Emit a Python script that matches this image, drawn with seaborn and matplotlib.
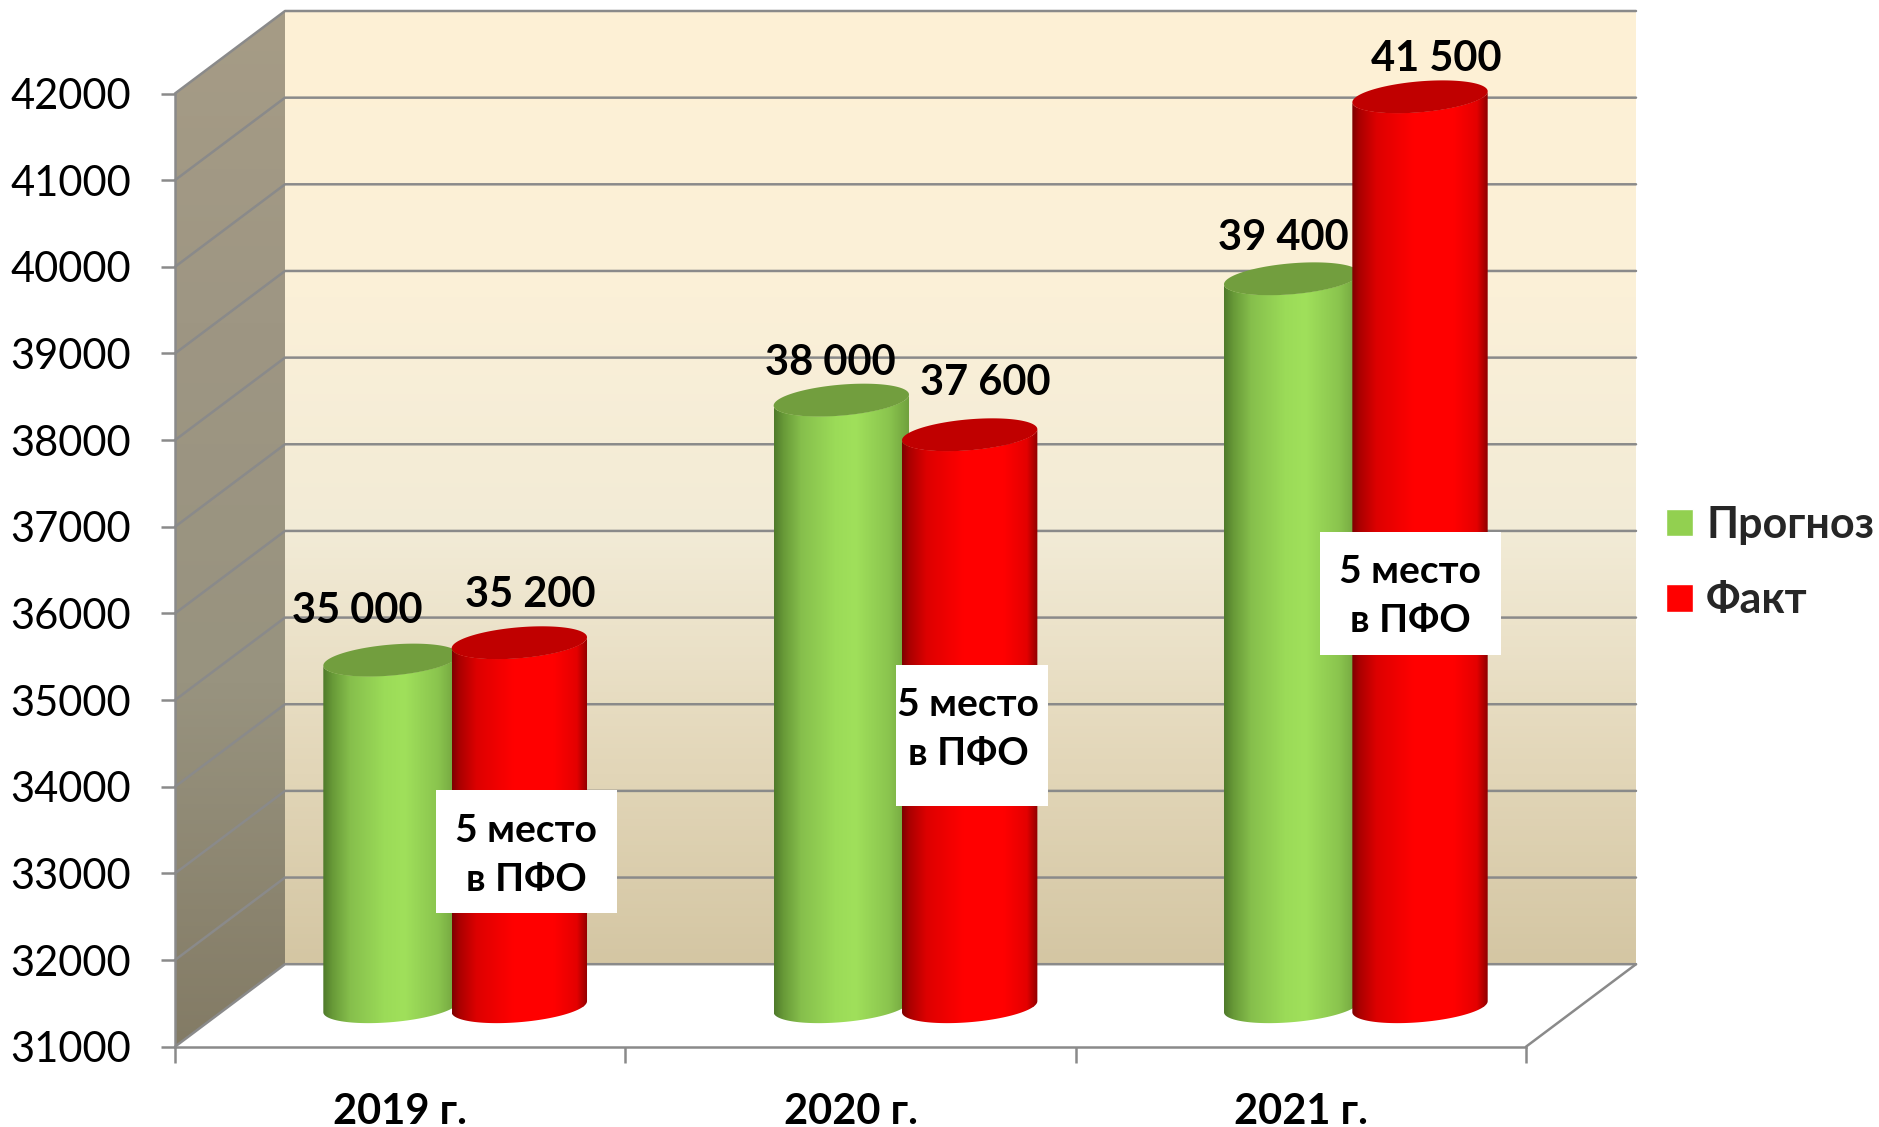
import numpy as np
import pandas as pd
import seaborn as sns
import matplotlib.pyplot as plt
from matplotlib.colors import LinearSegmentedColormap as LSC
from matplotlib.patches import Rectangle
from matplotlib.path import Path

sns.set_theme(style='white')
plt.rcParams['font.family'] = ['Lato', 'Noto Sans', 'DejaVu Sans']

years = ['2019 г.', '2020 г.', '2021 г.']
series_names = ['Прогноз', 'Факт']
forecast = [35000, 38000, 39400]
fact = [35200, 37600, 41500]
y_ticks = list(range(31000, 43000, 1000))
note_text = '5 место\nв ПФО'

W, H = 1879, 1127
LINE = '#8a8a8a'
FS = 30

# px -> data
PX_X = 1351 / 3
PX_Y = 953.2 / 11000
DX = 110 / PX_X
DY = 82.5 / PX_Y
CAP_B = 15.5 / PX_Y
CAP_S = 5.5 / PX_Y

green_cmap = LSC.from_list('g', [(0, '#4f7a2b'), (0.07, '#689a38'), (0.2, '#86bf4c'), (0.45, '#9bdb58'),
                                 (0.6, '#a0e05b'), (0.85, '#8ac44e'), (1, '#6f9f3d')])
red_cmap = LSC.from_list('r', [(0, '#7d0000'), (0.05, '#a80000'), (0.18, '#dd0000'), (0.45, '#ff0000'),
                               (0.75, '#ff0000'), (0.92, '#e40000'), (1, '#8f0000')])
back_cmap = LSC.from_list('b', [(0, '#d4c6a3'), (0.2, '#e2d6b8'), (0.45, '#f2ebd6'), (0.7, '#fbf0d8'), (1, '#fef0d5')])
side_cmap = LSC.from_list('s', [(0, '#837b65'), (0.35, '#98937f'), (0.7, '#9e9683'), (1, '#a69c86')])

fig = plt.figure(figsize=(W / 100, H / 100), dpi=100)
ax = fig.add_axes([175 / W, (H - 1046.7) / H, 1351 / W, 953.2 / H], zorder=1)
bar_ax = fig.add_axes([230 / W, (H - 1006.7) / H, 1351 / W, 953.2 / H], zorder=2)

# walls
ax.set_xlim(-0.5, 2.5)
ax.set_ylim(31000, 42000)
ax.set_autoscale_on(False)
ax.patch.set_visible(False)
col = np.linspace(0, 1, 256).reshape(-1, 1)
ax.imshow(col, origin='lower', cmap=back_cmap, aspect='auto', zorder=0, clip_on=False,
          extent=(-0.5 + DX, 2.5 + DX, 31000 + DY, 42000 + DY))
side = ax.imshow(col, origin='lower', cmap=side_cmap, aspect='auto', zorder=0,
                 extent=(-0.5, -0.5 + DX, 31000, 42000 + DY))
side.set_clip_box(fig.bbox)
side.set_clip_path(Path([(-0.5, 31000), (-0.5 + DX, 31000 + DY), (-0.5 + DX, 42000 + DY), (-0.5, 42000)]),
                   ax.transData)

for v in y_ticks:
    ax.plot([-0.5, -0.5 + DX, 2.5 + DX], [v, v + DY, v + DY], color=LINE, lw=1.8, zorder=1, clip_on=False)
ax.plot([2.5, 2.5 + DX], [31000, 31000 + DY], color=LINE, lw=1.8, zorder=1, clip_on=False)

for s in ['top', 'right']:
    ax.spines[s].set_visible(False)
for s in ['left', 'bottom']:
    ax.spines[s].set_color(LINE)
    ax.spines[s].set_linewidth(1.8)
ax.set_yticks(y_ticks)
ax.set_yticklabels([str(v) for v in y_ticks], fontsize=FS, color='black')
ax.set_xticks([-0.5, 0.5, 1.5, 2.5], labels=[])
ax.set_xticks([0, 1, 2], labels=years, minor=True, fontsize=FS, fontweight='bold', color='black')
ax.tick_params(axis='y', left=True, length=10, width=1.8, color=LINE, pad=21.5)
ax.tick_params(axis='x', which='major', bottom=True, length=11.5, width=1.8, color=LINE)
ax.tick_params(axis='x', which='minor', bottom=False, length=0, pad=33)

# bars
df = pd.DataFrame({
    'year': years * 2,
    'value': forecast + fact,
    'series': [series_names[0]] * 3 + [series_names[1]] * 3,
})
sns.barplot(data=df, x='year', y='value', hue='series', hue_order=series_names, dodge=True, width=0.57,
            palette=['#92d050', '#ff0000'], saturation=1, ax=bar_ax)
bar_ax.set_xlim(-0.5, 2.5)
bar_ax.set_ylim(31000, 42000)
bar_ax.set_autoscale_on(False)
bar_ax.set_axis_off()


def cylinder(bar, cmap, cap_color, z):
    cx = bar.get_x() + bar.get_width() / 2
    rx = bar.get_width() / 2 * 135 / 128
    top = bar.get_height()
    t = np.linspace(np.pi, 2 * np.pi, 60)
    low_x = cx + rx * np.cos(t)
    low_off = CAP_S * np.cos(t) + CAP_B * np.sin(t)
    # side wall with the rounded foot, closed under the cap
    verts = list(zip(low_x, 31000 + low_off)) + list(zip(low_x[::-1], top + low_off[::-1]))
    outline = Path(verts + [verts[0]])
    bar.set_clip_path(outline, bar_ax.transData)
    im = bar_ax.imshow(np.linspace(0, 1, 256).reshape(1, -1), cmap=cmap, aspect='auto', zorder=z,
                       extent=(cx - rx, cx + rx, 31000 - 3 * CAP_B, top + 3 * CAP_B))
    im.set_clip_box(fig.bbox)
    im.set_clip_path(outline, bar_ax.transData)
    a = np.linspace(0, 2 * np.pi, 120)
    bar_ax.fill(cx + rx * np.cos(a), top + CAP_S * np.cos(a) + CAP_B * np.sin(a), color=cap_color, lw=0,
                zorder=z + 0.1, clip_on=False)


label_offsets = [[(-34, 49), (-11, 37.5), (-8, 40.5)], [(11, 47.5), (16, 52), (16, 37.5)]]

for s, (cont, cmap, cap) in enumerate(zip(bar_ax.containers[:2], [green_cmap, red_cmap], ['#729e3e', '#c00000'])):
    for i, bar in enumerate(cont):
        cylinder(bar, cmap, cap, 3 + i * 2 + s)
        cx = bar.get_x() + bar.get_width() / 2
        off = label_offsets[s][i]
        bar_ax.annotate(f'{int(bar.get_height()):,}'.replace(',', ' '), (cx, bar.get_height()),
                        xytext=(off[0] * 0.72, off[1] * 0.72), textcoords='offset points', ha='center',
                        va='center', fontsize=FS, fontweight='bold', color='black', zorder=20,
                        annotation_clip=False)

sns.move_legend(bar_ax, 'lower left', bbox_to_anchor=(1666 / W, (H - 620) / H), bbox_transform=fig.transFigure,
                frameon=False, title=None, handlelength=0.62, handleheight=0.62,
                handletextpad=0.31, labelspacing=0.82, borderpad=0, borderaxespad=0,
                prop={'weight': 'bold', 'size': 31})

# white notes over the bars
note_boxes = [(436, 790, 617, 913), (896, 665, 1048, 806), (1320, 532, 1501, 655)]
note_text_xy = [(526, 855), (968, 729), (1410, 596)]
for (x0, y0, x1, y1), (tx, ty) in zip(note_boxes, note_text_xy):
    fig.add_artist(Rectangle((x0 / W, 1 - y1 / H), (x1 - x0) / W, (y1 - y0) / H, transform=fig.transFigure,
                             facecolor='white', edgecolor='none', zorder=10))
    fig.text(tx / W, 1 - ty / H, note_text, ha='center', va='center', fontsize=28, fontweight='bold',
             color='black', linespacing=1.5, zorder=11)

fig.savefig('out.png', dpi=100, facecolor='white')
